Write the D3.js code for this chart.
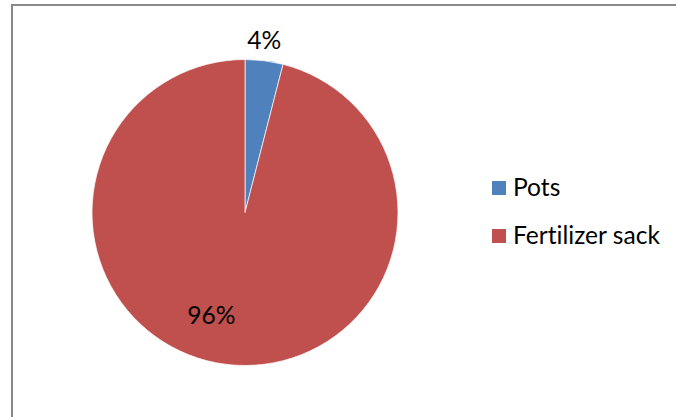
<!DOCTYPE html>
<html><head><meta charset="utf-8">
<script src="https://cdn.jsdelivr.net/npm/d3@7"></script>
<style>html,body{margin:0;padding:0;background:#fff;}svg{display:block;}text{font-variant-ligatures:none;font-feature-settings:"liga" 0;}</style>
</head><body>
<svg id="c" width="676" height="417"></svg>
<script>
const categories = ["Pots", "Fertilizer sack"];
const values = [4, 96];
const labels = ["4%", "96%"];
const colors = ["#4F81BD", "#C0504D"];

const svg = d3.select("#c");
const font = "Lato, 'Open Sans', sans-serif";

// size font so the long legend entry spans ~147px like the reference
const probe = svg.append("text").attr("font-family", font).attr("font-size", 20).text("Fertilizer sack");
const w20 = probe.node().getComputedTextLength();
probe.remove();
const fs = Math.max(16, Math.min(26, 20 * 147 / (w20 || 147)));

// outer frame
svg.append("rect").attr("x", 12).attr("y", 5).attr("width", 800).attr("height", 600)
  .attr("fill", "none").attr("stroke", "#898989").attr("stroke-width", 2);

const cx = 245, cy = 212.5, r = 153;
const g = svg.append("g").attr("transform", `translate(${cx},${cy})`);
const pie = d3.pie().sort(null).value(d => d)(values);
const arc = d3.arc().innerRadius(0).outerRadius(r);
g.selectAll("path").data(pie).join("path")
  .attr("d", arc).attr("fill", (d, i) => colors[i])
  .attr("stroke", "#fff").attr("stroke-width", 0.7);

// labels: polar placement (angle offset deg, radius)
const labelPos = [{a: -0.8, rr: 173}, {a: 11, rr: 108}];
pie.forEach((d, i) => {
  const mid = (d.startAngle + d.endAngle) / 2 + labelPos[i].a * Math.PI / 180;
  const rr = labelPos[i].rr;
  g.append("text")
    .attr("x", Math.sin(mid) * rr).attr("y", -Math.cos(mid) * rr)
    .attr("dy", "0.35em").attr("text-anchor", "middle")
    .attr("font-family", font).attr("font-size", fs).attr("fill", "#000")
    .text(labels[i]);
});

// legend
const leg = svg.append("g").attr("transform", "translate(492,181)");
categories.forEach((c, i) => {
  const y = i * 48;
  leg.append("rect").attr("x", 0).attr("y", y).attr("width", 14).attr("height", 14).attr("fill", colors[i]);
  leg.append("text").attr("x", 21).attr("y", y + 15)
    .attr("font-family", font).attr("font-size", fs).attr("fill", "#000").text(c);
});
</script>
</body></html>
